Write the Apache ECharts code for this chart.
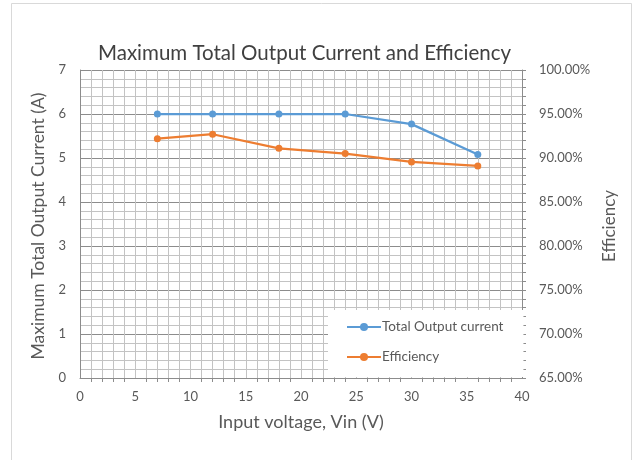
<!DOCTYPE html>
<html>
<head>
<meta charset="utf-8">
<script src="https://cdn.jsdelivr.net/npm/echarts@6/dist/echarts.min.js"></script>
<style>
  html, body { margin: 0; padding: 0; background: #fff; }
  #main { width: 636px; height: 460px; }
</style>
</head>
<body>
<div id="main"></div>
<script>
// data
const vin = [7, 12, 18, 24, 30, 36]
const currentA = [6.0, 6.0, 6.0, 6.0, 5.77, 5.08]
const efficiencyPct = [92.2, 92.7, 91.1, 90.5, 89.55, 89.1]

const font = 'Lato, "Open Sans", sans-serif'
const textColor = '#595959'
const minorColor = '#c3c3c3'
const majorColor = '#8c8c8c'

const chart = echarts.init(document.getElementById('main'))

const option = {
  animation: false,
  backgroundColor: '#fff',
  textStyle: { fontFamily: font },
  graphic: [
    {
      type: 'rect',
      shape: { x: 11.5, y: 3.5, width: 620, height: 470 },
      style: { fill: 'none', stroke: '#d9d9d9', lineWidth: 1 },
      silent: true,
    },
  ],
  title: {
    text: 'Maximum Total Output Current and Efficiency',
    left: 93,
    top: 38,
    textStyle: { fontFamily: font, fontSize: 20.5, fontWeight: 'normal', color: '#404040' },
  },
  grid: { left: 80, right: 114, top: 70, bottom: 82 },
  legend: {
    orient: 'vertical',
    left: 328,
    top: 310,
    itemGap: 16,
    itemWidth: 34,
    itemHeight: 10,
    padding: [10, 20, 13, 18],
    backgroundColor: '#fff',
    textStyle: { fontFamily: font, fontSize: 13.5, color: textColor, padding: [0, 0, 0, -4] },
    data: ['Total Output current', 'Efficiency'],
  },
  xAxis: {
    type: 'value',
    min: 0,
    max: 40,
    interval: 5,
    name: 'Input voltage, Vin (V)',
    nameLocation: 'middle',
    nameGap: 35,
    nameTextStyle: { fontFamily: font, fontSize: 18, color: textColor },
    axisLine: { show: true, lineStyle: { color: majorColor } },
    axisTick: { show: false },
    minorTick: { show: true, splitNumber: 5, length: 4, lineStyle: { color: majorColor } },
    axisLabel: { fontFamily: font, fontSize: 13, color: textColor, margin: 12 },
    splitLine: { show: true, lineStyle: { color: minorColor, width: 1 } },
    minorSplitLine: { show: true, lineStyle: { color: minorColor, width: 1 } },
  },
  yAxis: [
    {
      type: 'value',
      min: 0,
      max: 7,
      interval: 1,
      name: 'Maximum Total Output Current (A)',
      nameLocation: 'middle',
      nameGap: 30,
      nameTextStyle: { fontFamily: font, fontSize: 17.5, color: textColor, padding: [0, 4, 0, 0] },
      axisLine: { show: true, lineStyle: { color: majorColor } },
      axisTick: { show: false },
      axisLabel: { fontFamily: font, fontSize: 13, color: textColor, margin: 14 },
      splitLine: { show: true, lineStyle: { color: majorColor, width: 1 } },
      minorSplitLine: { show: true, lineStyle: { color: minorColor, width: 1 } },
      minorTick: { show: false, splitNumber: 5 },
    },
    {
      type: 'value',
      min: 65,
      max: 100,
      interval: 5,
      name: 'Efficiency',
      nameLocation: 'middle',
      nameGap: 74,
      nameTextStyle: { fontFamily: font, fontSize: 17, color: textColor, padding: [0, 4, 0, 0] },
      axisLine: { show: true, lineStyle: { color: majorColor } },
      axisTick: { show: true, length: 4, inside: false, lineStyle: { color: majorColor } },
      minorTick: { show: true, splitNumber: 5, length: 4, lineStyle: { color: majorColor } },
      axisLabel: {
        fontFamily: font,
        fontSize: 13,
        color: textColor,
        margin: 17,
        formatter: v => v.toFixed(2) + '%',
      },
      splitLine: { show: false },
    },
  ],
  series: [
    {
      name: 'Total Output current',
      type: 'line',
      yAxisIndex: 0,
      data: vin.map((v, i) => [v, currentA[i]]),
      symbol: 'circle',
      symbolSize: 7,
      lineStyle: { color: '#5b9bd5', width: 2.25 },
      itemStyle: { color: '#5b9bd5' },
      z: 3,
    },
    {
      name: 'Efficiency',
      type: 'line',
      yAxisIndex: 1,
      data: vin.map((v, i) => [v, efficiencyPct[i]]),
      symbol: 'circle',
      symbolSize: 7,
      lineStyle: { color: '#ed7d31', width: 2.25 },
      itemStyle: { color: '#ed7d31' },
      z: 2,
    },
  ],
}

option && chart.setOption(option)
</script>
</body>
</html>
